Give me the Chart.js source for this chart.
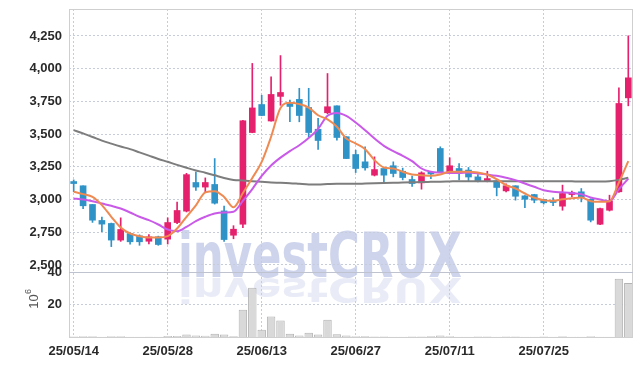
<!DOCTYPE html>
<html><head><meta charset="utf-8">
<script src="https://cdn.jsdelivr.net/npm/chart.js@4/dist/chart.umd.min.js"></script>
<style>html,body{margin:0;padding:0;background:#fff;} canvas{display:block;}</style>
</head><body>
<canvas id="c" width="643" height="366"></canvas>
<script>
const dates = ['25/05/14','25/05/15','25/05/16','25/05/19','25/05/20','25/05/21','25/05/22','25/05/23','25/05/26','25/05/27',
'25/05/28','25/05/29','25/05/30','25/06/02','25/06/04','25/06/05','25/06/09','25/06/10','25/06/11','25/06/12',
'25/06/13','25/06/16','25/06/17','25/06/18','25/06/19','25/06/20','25/06/23','25/06/24','25/06/25','25/06/26',
'25/06/27','25/06/30','25/07/01','25/07/02','25/07/03','25/07/04','25/07/07','25/07/08','25/07/09','25/07/10',
'25/07/11','25/07/14','25/07/15','25/07/16','25/07/17','25/07/18','25/07/21','25/07/22','25/07/23','25/07/24',
'25/07/25','25/07/28','25/07/29','25/07/30','25/07/31','25/08/01','25/08/04','25/08/05','25/08/06','25/08/07'];

const opens  = [3128,3105,2962,2840,2817,2690,2740,2722,2681,2715, 2697,2824,2911,3130,3095,3115,2913,2727,2811,3512,
                3726,3600,3788,3734,3765,3703,3537,3663,3716,3480, 3344,3288,3186,3237,3258,3216,3153,3127,3205,3390,
                3212,3237,3225,3173,3143,3143,3066,3105,3028,3038, 3000,2987,2949,3038,3059,3002,2811,2918,3059,3777];
const highs  = [3150,3105,2962,2865,2820,2860,2745,2730,2732,2720, 2860,2980,3200,3210,3165,3313,2950,2800,3605,4040,
                3797,3938,4100,3760,3850,3850,3620,3963,3716,3480, 3377,3403,3326,3240,3288,3240,3180,3212,3215,3403,
                3319,3275,3245,3190,3216,3145,3120,3105,3030,3040, 3002,3013,3110,3065,3084,3005,2935,3033,3854,4251];
const lows   = [3060,2930,2825,2755,2640,2680,2658,2650,2660,2650, 2660,2815,2905,3070,3060,2965,2680,2700,2785,3510,
                3640,3598,3720,3594,3594,3475,3382,3655,3453,3313, 3206,3224,3180,3128,3173,3150,3100,3079,3160,3206,
                3210,3150,3140,3135,3135,3028,3058,2995,2937,2975, 2965,2952,2918,3020,2982,2829,2808,2912,3055,3716];
const closes = [3122,2952,2842,2812,2690,2771,2677,2677,2715,2656, 2824,2916,3190,3095,3130,2972,2694,2773,3602,3700,
                3642,3803,3818,3711,3642,3512,3451,3709,3474,3313, 3237,3242,3229,3186,3199,3168,3122,3204,3195,3206,
                3258,3212,3172,3140,3160,3092,3105,3025,3002,2995, 2975,2977,3046,3051,3015,2842,2931,2990,3734,3930];

const volumes = [0.3,0.5,0.5,0.2,0.5,0.5,0.2,0.2,0.1,0.2, 0.6,0.6,1.6,1.0,0.8,2.0,1.5,0.4,16.7,30.3,
                 4.4,12.6,10.2,2.0,1.0,2.6,1.5,10.6,1.7,1.0, 0.5,0.4,0.3,0.3,0.2,0.2,0.3,0.3,0.4,1.0,
                 0.5,0.2,0.2,0.3,0.3,0.2,0.3,0.3,0.2,0.2, 0.3,0.2,0.5,0.2,0.2,0.5,0.2,0.2,35.8,33.3];

const ma5  = [3059,3041,3020,2957,2868,2786,2740,2720,2710,2710, 2720,2778,2868,2955,3054,3064,3020,2940,3050,3165,
              3288,3480,3700,3740,3729,3703,3644,3612,3556,3466, 3428,3385,3301,3245,3237,3212,3191,3186,3181,3191,
              3212,3212,3212,3206,3191,3155,3109,3084,3046,3013, 2995,2990,3002,3009,3015,2987,2982,2987,3130,3293];
const ma20 = [3008,3000,2987,2969,2952,2931,2901,2868,2842,2809, 2771,2758,2791,2835,2868,2893,2901,2906,2990,3080,
              3180,3260,3320,3370,3415,3470,3540,3640,3662,3640, 3589,3530,3466,3410,3369,3334,3293,3237,3212,3206,
              3203,3203,3206,3199,3191,3181,3166,3148,3122,3097, 3071,3059,3055,3050,3041,3015,3000,2987,3079,3160];
const ma60 = [3530,3505,3478,3450,3427,3405,3385,3360,3335,3310, 3288,3265,3243,3222,3205,3185,3165,3150,3145,3140,
              3135,3130,3128,3125,3120,3115,3115,3118,3120,3120, 3120,3122,3124,3126,3128,3130,3132,3134,3135,3136,
              3138,3140,3140,3140,3140,3140,3140,3140,3140,3140, 3140,3140,3140,3139,3138,3138,3138,3140,3150,3166];

const priceTicks = [2500,2750,3000,3250,3500,3750,4000,4250];
const volTicks = [20,40];

const UP = '#e5216d', DOWN = '#2f93c7';
const candleColors = closes.map((c,i)=> c>=opens[i] ? UP : DOWN);
const wickData = lows.map((l,i)=>[l, highs[i]]);
const bodyData = opens.map((o,i)=>[o, closes[i]]);

const FONT = "'Liberation Sans', Arial, sans-serif";
const GRID = '#c6ccda';
const TICKFONT = {family:FONT, size:13, weight:'bold'};

const framePlugin = {
  id:'frame',
  beforeDraw(chart){
    const ctx = chart.ctx;
    ctx.save();
    ctx.fillStyle = '#fff';
    ctx.fillRect(0,0,chart.width,chart.height);
    const txt = 'investCRUX';
    ctx.font = "bold 62px 'DejaVu Sans'";
    const w = ctx.measureText(txt).width;
    const sx = 284 / w;
    const left = 178, base = 277;
    ctx.save();
    ctx.translate(left, base);
    ctx.scale(sx, 1);
    ctx.fillStyle = 'rgba(176,186,222,0.62)';
    ctx.textBaseline = 'alphabetic';
    ctx.fillText(txt, 0, 0);
    ctx.restore();
    ctx.save();
    ctx.translate(left, base + 1);
    ctx.scale(sx, -0.55);
    ctx.fillStyle = 'rgba(190,198,228,0.34)';
    ctx.fillText(txt, 0, 0);
    ctx.restore();
    ctx.restore();
  },
  afterDatasetsDraw(chart){
    const ctx = chart.ctx, a = chart.chartArea;
    const v = chart.scales.v;
    ctx.save();
    ctx.strokeStyle = '#cfcfcf';
    ctx.lineWidth = 1;
    ctx.strokeRect(Math.round(a.left)+0.5, Math.round(a.top)+0.5, Math.round(a.right-a.left)-1, Math.round(a.bottom-a.top));
    ctx.strokeStyle = '#bfc3cf';
    ctx.beginPath();
    const ys = Math.round(v.top)+0.5;
    ctx.moveTo(a.left, ys); ctx.lineTo(a.right, ys);
    ctx.stroke();
    ctx.translate(34, (v.top + v.bottom)/2 - 3);
    ctx.rotate(-Math.PI/2);
    ctx.fillStyle = '#555';
    ctx.font = "13px " + FONT;
    ctx.textAlign = 'center';
    ctx.textBaseline = 'middle';
    ctx.fillText('10', 0, 0);
    ctx.font = "9px " + FONT;
    ctx.fillText('6', 10, -5);
    ctx.restore();
  }
};

function noPad(s){ s.paddingTop = 0; s.paddingBottom = 0; s.paddingLeft = 0; s.paddingRight = 0; }

new Chart(document.getElementById('c'), {
  data: {
    labels: dates,
    datasets: [
      {type:'line', label:'MA5', data: ma5, yAxisID:'y', borderColor:'#ef8a52', borderWidth:2, pointRadius:0, cubicInterpolationMode:'monotone', order:0},
      {type:'line', label:'MA20', data: ma20, yAxisID:'y', borderColor:'#c95ae8', borderWidth:2, pointRadius:0, cubicInterpolationMode:'monotone', order:0},
      {type:'line', label:'MA60', data: ma60, yAxisID:'y', borderColor:'#7d7d7d', borderWidth:2, pointRadius:0, cubicInterpolationMode:'monotone', order:0},
      {type:'bar', label:'wick', data: wickData, yAxisID:'y', backgroundColor: candleColors, barThickness:1, grouped:false, order:1},
      {type:'bar', label:'body', data: bodyData, yAxisID:'y', backgroundColor: candleColors, barThickness:6, minBarLength:2, grouped:false, order:1},
      {type:'bar', label:'volume', data: volumes, yAxisID:'v', backgroundColor:'#d9d9d9', borderColor:'#b3b3b3', borderWidth:1, barPercentage:0.9, categoryPercentage:1, grouped:false, order:2}
    ]
  },
  options: {
    responsive:false, animation:false, devicePixelRatio:1,
    layout:{padding:{top:9, right:10, left:0, bottom:0}},
    plugins:{legend:{display:false}, tooltip:{enabled:false}},
    scales:{
      x:{
        type:'category', offset:true,
        grid:{offset:false, color:GRID, drawTicks:false},
        border:{display:false, dash:[2,2]},
        afterBuildTicks(a){ a.ticks = a.ticks.filter(t=>t.value % 10 === 0); },
        ticks:{autoSkip:false, maxRotation:0, padding:7, color:'#2a2a2a', font:TICKFONT},
        afterFit(s){ s.height = 29; noPad(s); }
      },
      v:{
        type:'linear', position:'left', stack:'main', stackWeight:65, min:0, max:40,
        grid:{color:GRID, drawTicks:false},
        border:{display:false, dash:[2,2]},
        afterBuildTicks(a){ a.ticks = volTicks.map(v=>({value:v})); },
        ticks:{autoSkip:false, padding:7, color:'#2a2a2a', font:TICKFONT, callback:v=>String(v)},
        afterFit(s){ s.width = 69; noPad(s); }
      },
      y:{
        type:'linear', position:'left', stack:'main', stackWeight:263, min:2446, max:4456,
        grid:{color:GRID, drawTicks:false},
        border:{display:false, dash:[2,2]},
        afterBuildTicks(a){ a.ticks = priceTicks.map(v=>({value:v})); },
        ticks:{autoSkip:false, padding:7, color:'#2a2a2a', font:TICKFONT, callback:v=>v.toLocaleString('en-US')},
        afterFit(s){ s.width = 69; noPad(s); }
      }
    }
  },
  plugins:[framePlugin]
});
</script>
</body></html>
